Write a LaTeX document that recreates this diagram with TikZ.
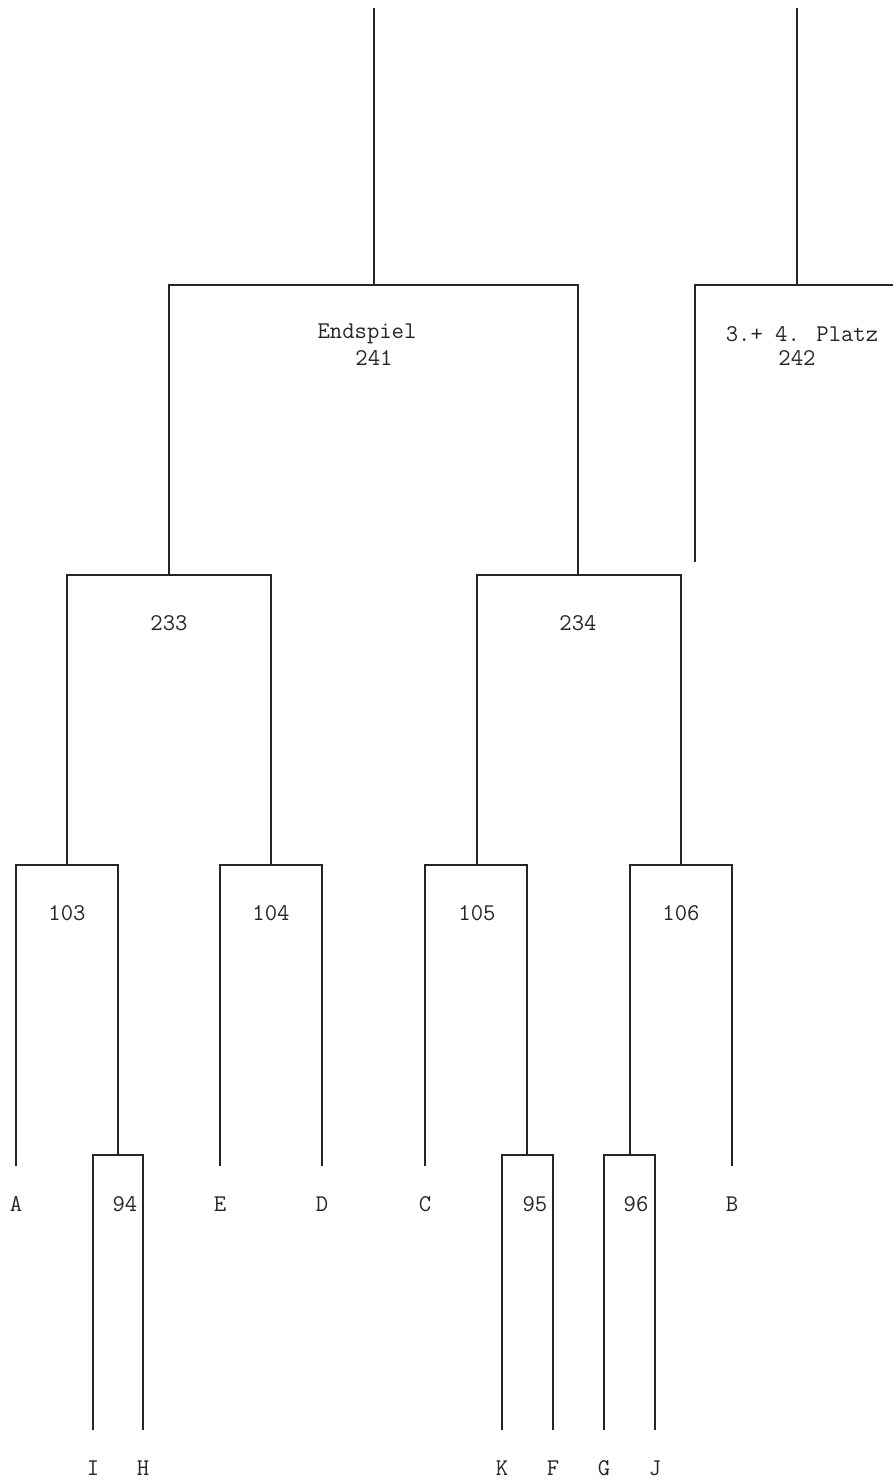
\documentclass[tikz,border=0pt]{standalone}
\begin{document}
\begin{tikzpicture}[x=1pt,y=-1pt,
    bracket/.style={draw=black!85, line width=1.3pt},
    lbl/.style={font=\ttfamily\fontsize{24}{28}\selectfont, text=black!85, inner sep=0pt},
    team/.style={lbl, minimum height=76pt}]
  \useasboundingbox (0,0) rectangle (893,1483);
  % match points
  \coordinate (top241) at (374,8);
  \coordinate (m241) at (374,285);
  \coordinate (top242) at (797,8);
  \coordinate (m242) at (797,285);
  \coordinate (r242) at (893,285);
  \coordinate (l242) at (695,562);
  \coordinate (m233) at (169,575);
  \coordinate (m234) at (578,575);
  \coordinate (m103) at (67,865);
  \coordinate (m104) at (271,865);
  \coordinate (m105) at (477,865);
  \coordinate (m106) at (681,865);
  \coordinate (m94) at (118,1155);
  \coordinate (m95) at (527,1155);
  \coordinate (m96) at (630,1155);
  % teams
  \node[team] (A) at (16,1204) {A};
  \node[team] (E) at (220,1204) {E};
  \node[team] (D) at (322,1204) {D};
  \node[team] (C) at (425,1204) {C};
  \node[team] (B) at (732,1204) {B};
  \node[team] (I) at (93,1468) {I};
  \node[team] (H) at (143,1468) {H};
  \node[team] (K) at (502,1468) {K};
  \node[team] (F) at (553,1468) {F};
  \node[team] (G) at (604,1468) {G};
  \node[team] (J) at (655,1468) {J};
  % final and 3rd place
  \draw[bracket] (top241) -- (m241);
  \draw[bracket] (m233) |- (m241) -| (m234);
  \draw[bracket] (top242) -- (m242);
  \draw[bracket] (l242) |- (m242) -- (r242);
  \node[lbl] (t241a) at (367,334) {Endspiel};
  \node[lbl] (t241) at (374,358) {241};
  \node[lbl] (t242a) at (802,334) {3.+ 4. Platz};
  \node[lbl] (t242) at (797,358) {242};
  % semi finals
  \draw[bracket] (m103) |- (m233) -| (m104);
  \draw[bracket] (m105) |- (m234) -| (m106);
  \node[lbl] (t233) at (169,623) {233};
  \node[lbl] (t234) at (578,623) {234};
  % quarter finals
  \draw[bracket] (A.north) |- (m103) -| (m94);
  \draw[bracket] (E.north) |- (m104) -| (D.north);
  \draw[bracket] (C.north) |- (m105) -| (m95);
  \draw[bracket] (m96) |- (m106) -| (B.north);
  \node[lbl] (t103) at (67,913) {103};
  \node[lbl] (t104) at (271,913) {104};
  \node[lbl] (t105) at (477,913) {105};
  \node[lbl] (t106) at (681,913) {106};
  % first round
  \draw[bracket] (I.north) |- (m94) -| (H.north);
  \draw[bracket] (K.north) |- (m95) -| (F.north);
  \draw[bracket] (G.north) |- (m96) -| (J.north);
  \node[lbl] (t94) at (125,1204) {94};
  \node[lbl] (t95) at (535,1204) {95};
  \node[lbl] (t96) at (636,1204) {96};
\end{tikzpicture}
\end{document}
